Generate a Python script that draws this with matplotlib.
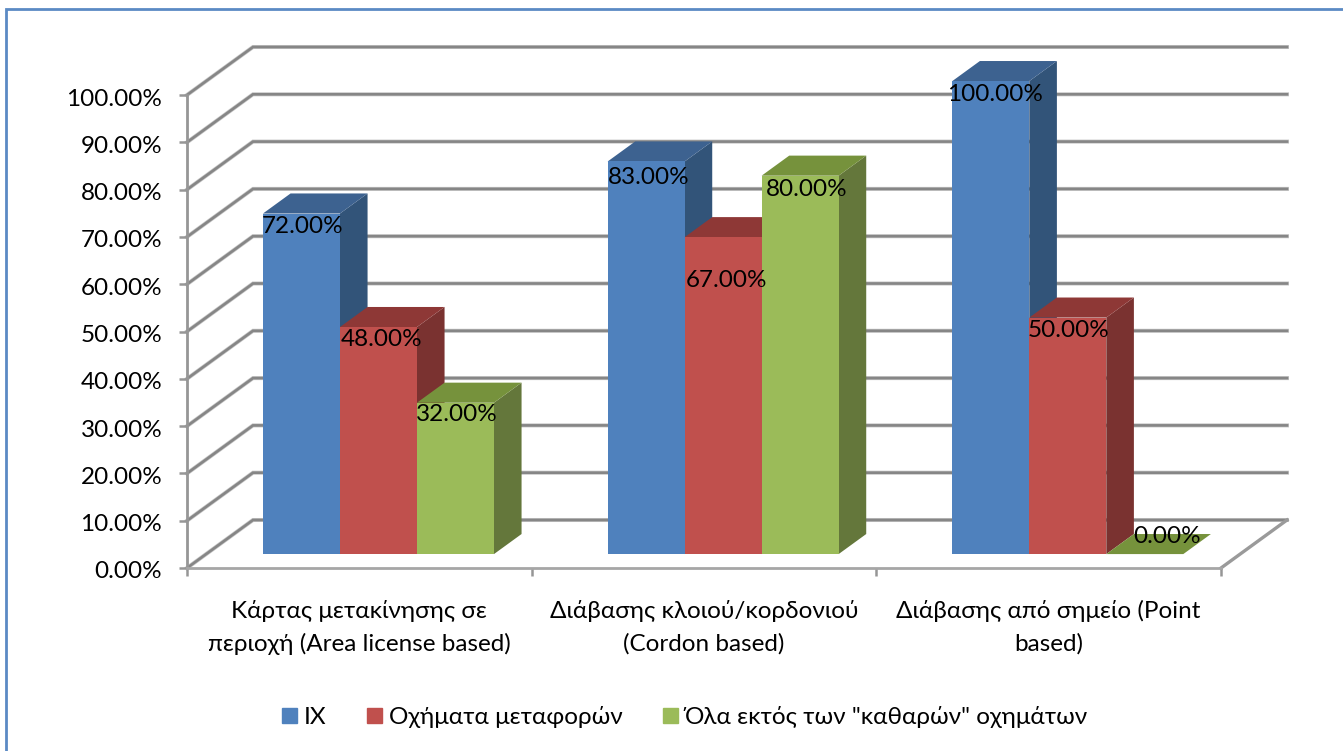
import matplotlib
matplotlib.use('Agg')
import matplotlib.pyplot as plt
from matplotlib.lines import Line2D
from matplotlib.patches import Patch
from matplotlib.transforms import ScaledTranslation
import numpy as np

categories = ['Κάρτας μετακίνησης σε\nπεριοχή (Area license based)',
              'Διάβασης κλοιού/κορδονιού\n(Cordon based)',
              'Διάβασης από σημείο (Point\nbased)']
series_names = ['ΙΧ', 'Οχήματα μεταφορών', 'Όλα εκτός των "καθαρών" οχημάτων']
ix_vals = [72, 83, 100]
transport_vals = [48, 67, 50]
clean_vals = [32, 80, 0]
y_ticks = list(range(0, 101, 10))

front_cols = ['#4F81BD', '#C0504D', '#9BBB59']
side_cols = ['#325479', '#7A3230', '#64773B']
top_cols = ['#3D6290', '#8E3836', '#76923C']
grid_col = '#868686'

W, H = 1343, 751
plt.rcParams['font.family'] = ['Lato', 'Noto Sans', 'DejaVu Sans']
fs = 17.5

fig = plt.figure(figsize=(W / 100, H / 100), dpi=100)
ax = fig.add_axes([187 / W, 1 - 568 / H, (1221 - 187) / W, (568 - 95) / H])
ax.set_xlim(0, 3)
ax.set_ylim(0, 100)

# depth of the fake 3d box, in data units
depth_x = 66 / 344.67
depth_y = 48 / 4.73
bar_w = 0.2234
bar_d0, bar_d1 = 0.29, 0.708


def proj(x, v, d):
    return x + d * depth_x, v + d * depth_y


# back wall and left wall grid
for v in y_ticks:
    x0, y0 = proj(0, v, 0)
    x1, y1 = proj(0, v, 1)
    x2, y2 = proj(3, v, 1)
    ax.plot([x0, x1, x2], [y0, y1, y2], color='#c6c6c6', lw=2.9, zorder=1,
            clip_on=False, solid_joinstyle='miter')
    ax.plot([x0, x1, x2], [y0, y1, y2], color=grid_col, lw=1.9, zorder=1.1,
            clip_on=False, solid_joinstyle='miter')
# floor edge on the right
x0, y0 = proj(3, 0, 0)
x1, y1 = proj(3, 0, 1)
ax.plot([x0, x1], [y0, y1], color='#9a9a9a', lw=2.4, zorder=1.2, clip_on=False)

# bars, left to right so each one covers the side of the previous
for i, vals in enumerate(zip(ix_vals, transport_vals, clean_vals)):
    start = i + (1 - 3 * bar_w) / 2
    for j, v in enumerate(vals):
        l = start + j * bar_w
        r = l + bar_w
        if v > 0:
            side = [proj(r, 0, bar_d0), proj(r, v, bar_d0), proj(r, v, bar_d1), proj(r, 0, bar_d1)]
            ax.fill(*zip(*side), color=side_cols[j], lw=0, zorder=3, clip_on=False)
        top = [proj(l, v, bar_d0), proj(r, v, bar_d0), proj(r, v, bar_d1), proj(l, v, bar_d1)]
        ax.fill(*zip(*top), color=top_cols[j], lw=0, zorder=3, clip_on=False)
        if v > 0:
            front = [proj(l, 0, bar_d0), proj(r, 0, bar_d0), proj(r, v, bar_d0), proj(l, v, bar_d0)]
            ax.fill(*zip(*front), color=front_cols[j], lw=0, zorder=3, clip_on=False)

# value labels, nudged by hand the way they were placed
nudges = [[(1, -13), (3, -12), (1, -12)],
          [(3, -16), (3, -43), (7, -14)],
          [(4, -13), (1, -13), (22, 18)]]
for i, vals in enumerate(zip(ix_vals, transport_vals, clean_vals)):
    start = i + (1 - 3 * bar_w) / 2
    for j, v in enumerate(vals):
        xc, yc = proj(start + (j + 0.5) * bar_w, v, bar_d0)
        ax.annotate('%.2f%%' % v, (xc, yc), xytext=nudges[i][j], textcoords='offset pixels',
                    ha='center', va='center', fontsize=fs, color='black', zorder=5,
                    annotation_clip=False)

for s in ['top', 'right']:
    ax.spines[s].set_visible(False)
ax.spines['left'].set_color('#969696')
ax.spines['left'].set_linewidth(2)
ax.spines['bottom'].set_color('#a6a6a6')
ax.spines['bottom'].set_linewidth(2)
ax.set_facecolor('none')

ax.set_yticks(y_ticks)
ax.set_yticklabels(['%.2f%%' % v for v in y_ticks], fontsize=fs)
ax.tick_params(axis='y', length=5.8, width=1.8, color='#969696', pad=12)
# tick labels sit a little under their ticks
down = ScaledTranslation(0, -2 / 100, fig.dpi_scale_trans)
for lab in ax.get_yticklabels():
    lab.set_transform(lab.get_transform() + down)
ax.set_xticks([0, 1, 2, 3])
ax.set_xticklabels([])
ax.set_xticks([0.5, 1.5, 2.5], minor=True)
ax.set_xticklabels(categories, minor=True, fontsize=fs, linespacing=1.62)
ax.tick_params(axis='x', which='major', length=5.8, width=1.8, color='#969696')
ax.tick_params(axis='x', which='minor', length=0, pad=23)

handles = [Patch(color=c) for c in front_cols]
fig.legend(handles, series_names, ncol=3, loc='center', bbox_to_anchor=(685 / W, 1 - 717 / H),
           frameon=False, fontsize=fs, handlelength=0.62, handleheight=0.62,
           handletextpad=0.28, columnspacing=1.65)

# chart frame, only the left and top edges show
fig.add_artist(Line2D([6 / W, 6 / W, 1], [0, 1 - 8.5 / H, 1 - 8.5 / H],
                      color='#5B8AC4', lw=2, solid_joinstyle='miter'))

fig.savefig('out.png', dpi=100)
